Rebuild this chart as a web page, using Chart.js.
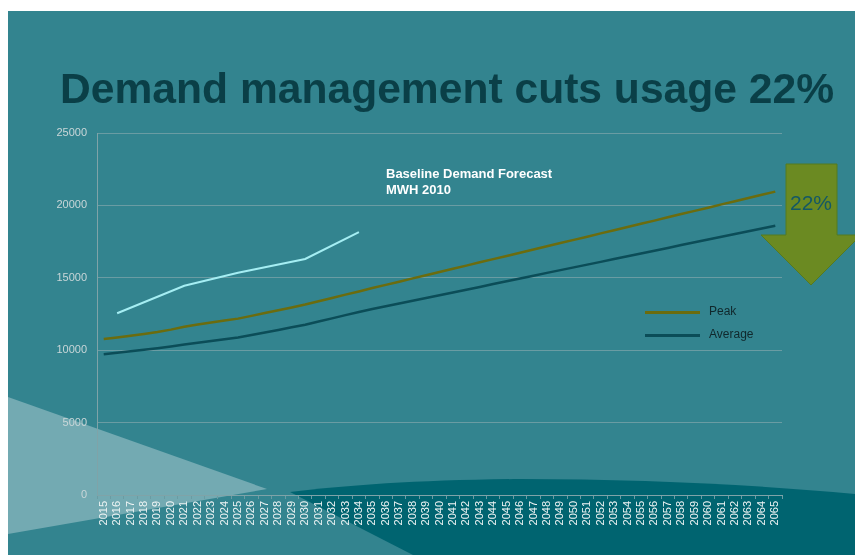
<!DOCTYPE html>
<html>
<head>
<meta charset="utf-8">
<script src="https://cdn.jsdelivr.net/npm/chart.js@4.4.1/dist/chart.umd.min.js"></script>
<style>
	html, body { margin:0; padding:0; background:#fff; width:855px; height:555px; overflow:hidden; }
	body { position:relative; font-family:'Liberation Sans', Arial, sans-serif; }
	#slide { position:absolute; left:8px; top:11px; width:847px; height:544px; background:#33848f; }
	#deco { position:absolute; left:0; top:0; }
	#emiChart { position:absolute; left:0; top:0; }
	.title { position:absolute; left:60px; top:67px; font-size:42.6px; line-height:43px; font-weight:bold; color:#0a3f47; white-space:nowrap; }
	.note { position:absolute; left:386px; top:166px; font-size:13px; line-height:16px; font-weight:bold; color:#fff; white-space:nowrap; }
	.pct { position:absolute; left:781px; top:192px; width:60px; text-align:center; font-size:21px; line-height:21px; color:#145865; }
	#legend { position:absolute; left:645px; top:302px; }
	.lg-row { position:relative; height:23px; }
	.lg-line { position:absolute; left:0; top:9px; width:55px; height:3px; }
	.lg-text { position:absolute; left:64px; top:2px; font-size:12px; line-height:14px; color:#10282c; white-space:nowrap; }
</style>
</head>
<body>
<div id="slide"></div>
<svg id="deco" width="855" height="555">
	<polygon points="8,397 267,489 8,534" fill="#73aab2"/>
	<path d="M290,492 C350,485 420,480 520,479 C640,479 760,485 855,494 L855,555 L413,555 Z" fill="#006470"/>
	<polygon points="786,164 837,164 837,235 861,235 811,285 761,235 786,235" fill="#6b8a22" stroke="#557a20" stroke-width="1"/>
</svg>
<canvas id="emiChart" width="855" height="555"></canvas>
<div class="title">Demand management cuts usage 22%</div>
<div class="note">Baseline Demand Forecast<br>MWH 2010</div>
<div class="pct">22%</div>
<div id="legend"></div>
<script>
(function(){
	const years = ['2015','2016','2017','2018','2019','2020','2021','2022','2023','2024',
		'2025','2026','2027','2028','2029','2030','2031','2032','2033','2034',
		'2035','2036','2037','2038','2039','2040','2041','2042','2043','2044',
		'2045','2046','2047','2048','2049','2050','2051','2052','2053','2054',
		'2055','2056','2057','2058','2059','2060','2061','2062','2063','2064','2065'];

	const peak = [10770,10880,11000,11120,11250,11420,11620,11780,11920,12050,
		12180,12370,12570,12760,12950,13150,13380,13610,13840,14060,
		14290,14510,14730,14960,15180,15400,15620,15840,16070,16290,
		16510,16730,16960,17180,17400,17620,17840,18070,18290,18510,
		18730,18950,19180,19400,19620,19840,20070,20290,20510,20730,20950];

	const average = [9720,9820,9920,10030,10140,10260,10390,10510,10630,10750,
		10880,11050,11220,11400,11580,11760,11980,12200,12420,12640,
		12840,13030,13220,13410,13610,13800,13990,14180,14370,14570,
		14760,14950,15140,15340,15530,15720,15910,16100,16300,16490,
		16680,16870,17060,17260,17450,17640,17830,18020,18220,18410,18600];

	// baseline forecast (MWH 2010) only read where the line bends
	const baseline = [null,12550,null,null,null,null,14450,null,null,null,
		15350,null,null,null,null,16300,null,null,null,18150];

	const yTicks = [0,5000,10000,15000,20000,25000];
	const legendSeries = ['Peak','Average'];

	const gridColor = '#6a9ca3';
	const axisColor = '#7fa3a8';
	const fontFamily = "'Liberation Sans', Arial, sans-serif";

	const canvas = document.getElementById('emiChart');
	const ctx = canvas.getContext('2d');

	const chart = new Chart(ctx, {
		type: 'line',
		data: {
			labels: years,
			datasets: [
				{ label: 'Baseline', data: baseline, borderColor: '#a5eef3', borderWidth: 2, spanGaps: true },
				{ label: 'Peak', data: peak, borderColor: '#6b6c0e', borderWidth: 2.5 },
				{ label: 'Average', data: average, borderColor: '#0b4d58', borderWidth: 2.5 }
			]
		},
		options: {
			responsive: false,
			animation: false,
			layout: { padding: { left: 0, right: 73, top: 133, bottom: 0 } },
			elements: { point: { radius: 0 }, line: { tension: 0, fill: false } },
			plugins: { legend: { display: false }, tooltip: { enabled: false } },
			scales: {
				x: {
					offset: true,
					grid: { drawOnChartArea: false, drawTicks: true, tickLength: 4, color: gridColor, offset: true },
					border: { color: axisColor },
					ticks: { autoSkip: false, minRotation: 90, maxRotation: 90, padding: 2, color: '#eef4f4', font: { family: fontFamily, size: 11 } },
					afterFit: function(s){ s.height = 60; }
				},
				y: {
					min: yTicks[0],
					max: yTicks[yTicks.length-1],
					afterBuildTicks: function(s){ s.ticks = yTicks.map(v => ({ value: v })); },
					grid: { color: gridColor, drawTicks: false },
					border: { color: axisColor },
					ticks: { padding: 10, color: '#c9d6d8', font: { family: fontFamily, size: 11 }, callback: function(v){ return String(v); } },
					afterFit: function(s){ s.width = 97; }
				}
			}
		}
	});

	// legend built from the datasets
	const box = document.getElementById('legend');
	chart.data.datasets.forEach(function(ds){
		if(legendSeries.indexOf(ds.label) < 0) return;
		const row = document.createElement('div');
		row.className = 'lg-row';
		const line = document.createElement('div');
		line.className = 'lg-line';
		line.style.background = ds.borderColor;
		const txt = document.createElement('div');
		txt.className = 'lg-text';
		txt.textContent = ds.label;
		row.appendChild(line);
		row.appendChild(txt);
		box.appendChild(row);
	});
})();
</script>
</body>
</html>
